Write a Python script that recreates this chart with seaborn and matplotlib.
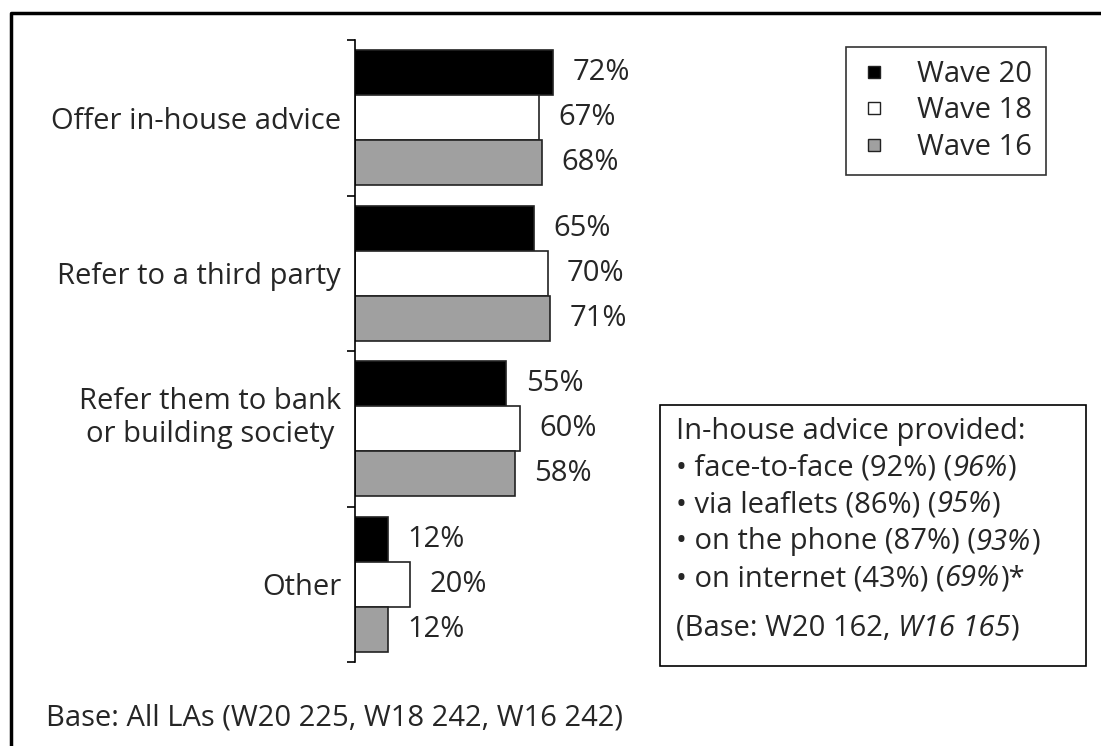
import pandas as pd
import matplotlib
matplotlib.use("Agg")
import matplotlib.pyplot as plt
from matplotlib.lines import Line2D
from matplotlib.patches import Rectangle
from matplotlib.text import Annotation
import seaborn as sns

# Chart data
categories = ["Offer in-house advice", "Refer to a third party",
              "Refer them to bank\nor building society", "Other"]
waves = ["Wave 20", "Wave 18", "Wave 16"]
wave20 = [72, 65, 55, 12]
wave18 = [67, 70, 60, 20]
wave16 = [68, 71, 58, 12]
colors = {"Wave 20": "#000000", "Wave 18": "#ffffff", "Wave 16": "#a0a0a0"}

box_title = "In-house advice provided:"
box_items = [("• face-to-face (92%) (", "96%", ")"),
             ("• via leaflets (86%) (", "95%", ")"),
             ("• on the phone (87%) (", "93%", ")"),
             ("• on internet (43%) (", "69%", ")*")]
box_base = ("(Base: W20 162, ", "W16 165", ")")
footnote = "Base: All LAs (W20 225, W18 242, W16 242)"

sns.set_style("white")
plt.rcParams["font.family"] = ["Open Sans", "DejaVu Sans"]
FS = 21

W, H = 1101, 746
fig = plt.figure(figsize=(W / 100, H / 100), dpi=100)
ax = fig.add_axes([355 / W, 1 - 662 / H, 275 / W, (662 - 40) / H])

df = pd.DataFrame({
    "category": categories * 3,
    "wave": [w for w in waves for _ in categories],
    "value": wave20 + wave18 + wave16,
})

sns.barplot(data=df, x="value", y="category", hue="wave", hue_order=waves,
            order=categories, palette=colors, orient="h", width=0.87,
            saturation=1, edgecolor="#222222", linewidth=1.2, legend=False, ax=ax)

for cont in ax.containers:
    ax.bar_label(cont, labels=[f"{v:.0f}%" for v in cont.datavalues],
                 padding=14, fontsize=FS, clip_on=False)

ax.set_xlim(0, 100)
ax.set_ylim(3.5, -0.5)
ax.set_xlabel("")
ax.set_ylabel("")
ax.set_xticks([])
for s in ["top", "right", "bottom"]:
    ax.spines[s].set_visible(False)
ax.spines["left"].set_color("black")
ax.spines["left"].set_linewidth(1.2)
ax.set_yticks(range(len(categories)))
# the two-line label sits a little higher than its bars in the original
ax.set_yticklabels([c + "\n" if "\n" in c else c for c in categories],
                   fontsize=FS, multialignment="center")
ax.set_yticks([i - 0.5 for i in range(len(categories) + 1)], minor=True)
ax.tick_params(axis="y", which="major", length=0, pad=10)
ax.tick_params(axis="y", which="minor", length=6, width=1.2, direction="out",
               color="black", left=True)

# legend
handles = [Line2D([], [], marker="s", linestyle="none", markersize=8,
                  markerfacecolor=colors[w], markeredgecolor="#222222", markeredgewidth=1)
           for w in waves]
leg = fig.legend(handles, waves, loc="upper left", bbox_to_anchor=(846 / W, 1 - 47 / H),
                 frameon=True, fancybox=False, edgecolor="black", fontsize=FS,
                 handletextpad=1.0, borderpad=0.45, labelspacing=0.25, borderaxespad=0,
                 handlelength=1.0)
leg.get_frame().set_linewidth(1.2)

# in-house advice box
fig.add_artist(Rectangle((660 / W, 1 - 666 / H), (1086 - 660) / W, (666 - 405) / H,
                         transform=fig.transFigure, facecolor="white",
                         edgecolor="black", linewidth=1.2, zorder=1))
x0 = 676 / W
fig.text(x0, 1 - 431 / H, box_title, fontsize=FS, va="center", zorder=3)
rows = box_items + [box_base]
ys = [468, 505, 542, 579, 628]
for (a, b, c), y in zip(rows, ys):
    t1 = fig.text(x0, 1 - y / H, a, fontsize=FS, va="center", zorder=3)
    t2 = Annotation(b, xy=(1, 0), xycoords=t1, va="bottom", ha="left",
                    fontsize=FS, style="italic", zorder=3)
    fig.add_artist(t2)
    t3 = Annotation(c, xy=(1, 0), xycoords=t2, va="bottom", ha="left",
                    fontsize=FS, zorder=3)
    fig.add_artist(t3)

fig.text(46 / W, 1 - 718 / H, footnote, fontsize=FS, va="center")

# outer frame (top and left edges)
fig.add_artist(Line2D([11 / W, 11 / W, 1], [0, 1 - 13 / H, 1 - 13 / H],
                      transform=fig.transFigure, color="black", linewidth=2.5))

fig.savefig("out.png", dpi=100)
